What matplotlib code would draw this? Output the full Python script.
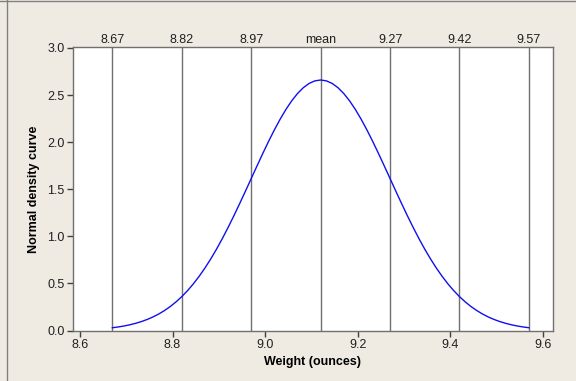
import matplotlib
matplotlib.use("Agg")
import matplotlib.pyplot as plt

plt.rcParams['font.family'] = ['Liberation Sans', 'DejaVu Sans']

# Curve points
weight = [8.67, 8.6825, 8.695, 8.7075, 8.72, 8.7325, 8.745, 8.7575, 8.77, 8.7825, 8.795, 8.8075,
          8.82, 8.8325, 8.845, 8.8575, 8.87, 8.8825, 8.895, 8.9075, 8.92, 8.9325, 8.945, 8.9575,
          8.97, 8.9825, 8.995, 9.0075, 9.02, 9.0325, 9.045, 9.0575, 9.07, 9.0825, 9.095, 9.1075,
          9.12, 9.1325, 9.145, 9.1575, 9.17, 9.1825, 9.195, 9.2075, 9.22, 9.2325, 9.245, 9.2575,
          9.27, 9.2825, 9.295, 9.3075, 9.32, 9.3325, 9.345, 9.3575, 9.37, 9.3825, 9.395, 9.4075,
          9.42, 9.4325, 9.445, 9.4575, 9.47, 9.4825, 9.495, 9.5075, 9.52, 9.5325, 9.545, 9.5575, 9.57]
density = [0.0296, 0.0378, 0.0480, 0.0606, 0.0760, 0.0945, 0.1169, 0.1434, 0.1748, 0.2116, 0.2543, 0.3036,
           0.3599, 0.4237, 0.4954, 0.5752, 0.6632, 0.7593, 0.8634, 0.9750, 1.0934, 1.2177, 1.3467, 1.4790,
           1.6131, 1.7472, 1.8794, 2.0076, 2.1297, 2.2435, 2.3471, 2.4385, 2.5159, 2.5778, 2.6229, 2.6504,
           2.6596,
           2.6504, 2.6229, 2.5778, 2.5159, 2.4385, 2.3471, 2.2435, 2.1297, 2.0076, 1.8794, 1.7472, 1.6131,
           1.4790, 1.3467, 1.2177, 1.0934, 0.9750, 0.8634, 0.7593, 0.6632, 0.5752, 0.4954, 0.4237, 0.3599,
           0.3036, 0.2543, 0.2116, 0.1748, 0.1434, 0.1169, 0.0945, 0.0760, 0.0606, 0.0480, 0.0378, 0.0296]

ref_positions = [8.67, 8.82, 8.97, 9.12, 9.27, 9.42, 9.57]
ref_labels = ["8.67", "8.82", "8.97", "mean", "9.27", "9.42", "9.57"]
x_ticks = [8.6, 8.8, 9.0, 9.2, 9.4, 9.6]
y_ticks = [0.0, 0.5, 1.0, 1.5, 2.0, 2.5, 3.0]

bg = '#EFEBE2'
fig = plt.figure(figsize=(5.76, 3.81), dpi=100, facecolor=bg)
ax = fig.add_axes([73/576, 1 - 331/381, (553-73)/576, (331-47)/381])
ax.set_facecolor('white')

for xp in ref_positions:
    ax.axvline(xp, color='#707070', lw=1.0, zorder=1)
ax.plot(weight, density, color='#1010EE', lw=1.0, zorder=2)

ax.set_xlim(8.585, 9.622)
ax.set_ylim(-0.005, 3.01)
ax.set_xticks(x_ticks)
ax.set_xticklabels([f"{v:.1f}" for v in x_ticks])
ax.set_yticks(y_ticks)
ax.set_yticklabels([f"{v:.1f}" for v in y_ticks])
ax.tick_params(direction='out', length=4, width=1, color='#404040', labelsize=9, pad=2,
               labelcolor='#202020')
for s in ax.spines.values():
    s.set_color('#707070')
    s.set_linewidth(1.0)

for xp, lab in zip(ref_positions, ref_labels):
    ax.text(xp, 1.005, lab, transform=ax.get_xaxis_transform(), ha='center', va='bottom',
            fontsize=9, color='#202020')

ax.set_xlabel('Weight (ounces)', fontsize=9, fontweight='bold', labelpad=3)
ax.set_ylabel('Normal density curve', fontsize=9, fontweight='bold', labelpad=5)

# figure borders
fig.add_artist(plt.Line2D([0, 1], [1 - 0.5/381, 1 - 0.5/381], transform=fig.transFigure, color='#808080', lw=1))
fig.add_artist(plt.Line2D([6.5/576, 6.5/576], [0, 1], transform=fig.transFigure, color='#808080', lw=1))

fig.savefig('out.png', dpi=100, facecolor=bg)
